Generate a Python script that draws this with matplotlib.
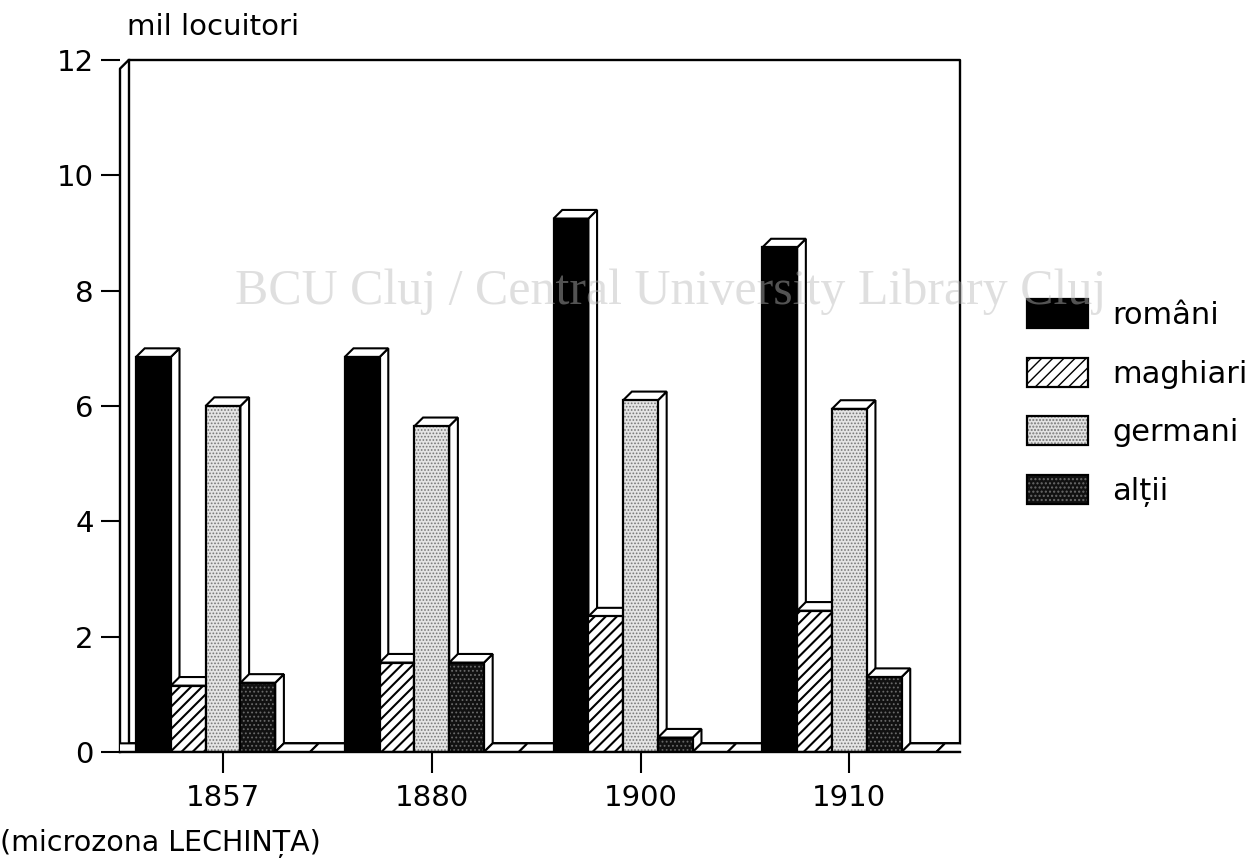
import matplotlib
matplotlib.use("Agg")
import matplotlib.pyplot as plt
from matplotlib.patches import Rectangle, Polygon, Patch

# data (mii locuitori, microzona Lechinta)
years    = ["1857", "1880", "1900", "1910"]
series   = ["români", "maghiari", "germani", "alții"]
romani   = [6.85, 6.85, 9.25, 8.75]
maghiari = [1.15, 1.55, 2.35, 2.45]
germani  = [6.0, 5.65, 6.1, 5.95]
altii    = [1.2, 1.55, 0.25, 1.3]
yticks   = [0, 2, 4, 6, 8, 10, 12]

values = [romani, maghiari, germani, altii]

# face / hatch / hatch colour / hatch width per series
styles = [
    dict(face="#000000", hatch=None,    hc="black",   hw=1.0),
    dict(face="#ffffff", hatch="///",   hc="black",   hw=1.5),
    dict(face="#e4e4e4", hatch=".....", hc="#777777", hw=0.8),
    dict(face="#111111", hatch="....",  hc="#6a6a6a", hw=0.8),
]
empty = dict(face="white", hatch=None, hc="black", hw=1.0)

SLOTS = 6            # 4 series + 2 empty slots per year
DX, DY = 0.25, 0.15  # fake 3d depth (x in slots, y in values)
XMIN, XMAX = -0.46, 23.68

plt.rcParams["font.family"] = ["DejaVu Sans"]

fig = plt.figure(figsize=(12.54, 8.65), dpi=100)
ax = fig.add_axes([120 / 1254, 113 / 865, 840 / 1254, 692 / 865])
ax.set_xlim(XMIN, XMAX)
ax.set_ylim(0, 12)
for s in ax.spines.values():
    s.set_visible(False)

# back wall / floor of the box
lw = 1.7
ax.plot([XMIN, XMIN, XMIN + DX, XMAX, XMAX], [0, 12 - DY, 12, 12, DY],
        color="black", lw=lw, clip_on=False, zorder=1)
ax.plot([XMIN + DX, XMIN + DX], [12, DY], color="black", lw=lw, clip_on=False, zorder=1)
ax.plot([XMIN + DX, XMAX], [DY, DY], color="black", lw=1.3, clip_on=False, zorder=1)


def bar3d(x0, v, st, z):
    # side + top faces (white), then the patterned front face
    side = Polygon([(x0 + 1, 0), (x0 + 1 + DX, DY), (x0 + 1 + DX, v + DY), (x0 + 1, v)],
                   facecolor="white", edgecolor="black", lw=1.5, zorder=z)
    top = Polygon([(x0, v), (x0 + DX, v + DY), (x0 + 1 + DX, v + DY), (x0 + 1, v)],
                  facecolor="white", edgecolor="black", lw=1.5, zorder=z)
    ax.add_patch(side)
    ax.add_patch(top)
    if v > 0:
        with plt.rc_context({"hatch.linewidth": st["hw"]}):
            front = Rectangle((x0, 0), 1, v, facecolor=st["face"], edgecolor=st["hc"],
                              hatch=st["hatch"], lw=0, zorder=z)
        ax.add_patch(front)
        ax.add_patch(Rectangle((x0, 0), 1, v, fill=False, edgecolor="black", lw=1.6, zorder=z))


z = 2
bar3d(-1, 0, empty, z)
for g in range(len(years)):
    for s in range(SLOTS):
        x0 = g * SLOTS + s
        if s < len(series):
            bar3d(x0, values[s][g], styles[s], z)
        else:
            bar3d(x0, 0, empty, z)
        z += 1

ax.plot([XMIN, XMAX], [0, 0], color="black", lw=lw, clip_on=False, zorder=z + 1)

# ticks
ax.set_yticks(yticks)
ax.set_yticklabels([str(t) for t in yticks])
ax.set_xticks([g * SLOTS + 2.5 for g in range(len(years))])
ax.set_xticklabels(years)
ax.tick_params(axis="y", length=14, width=1.5, pad=5, labelsize=21)
ax.tick_params(axis="x", length=15, width=1.5, pad=8, labelsize=21)

fig.text(127 / 1254, 1 - 27 / 865, "mil locuitori", fontsize=21, va="center", ha="left")
fig.text(0 / 1254, 1 - 843 / 865, "(microzona LECHINȚA)", fontsize=20.5, va="center", ha="left")

# legend
handles = []
for st in styles:
    with plt.rc_context({"hatch.linewidth": st["hw"]}):
        fill = Patch(facecolor=st["face"], edgecolor=st["hc"], hatch=st["hatch"], lw=0)
    handles.append((fill, Patch(fill=False, edgecolor="black", lw=1.6)))
fig.legend(handles, series, loc="upper left", bbox_to_anchor=(1027 / 1254, 1 - 299 / 865),
           frameon=False, fontsize=22, handlelength=2.0, handleheight=1.1,
           handletextpad=0.8, labelspacing=0.9, borderaxespad=0, borderpad=0)

# library watermark
fig.text(671 / 1254, 1 - 292 / 865, "BCU Cluj / Central University Library Cluj",
         family="Liberation Serif", fontsize=36, color="#bababa", alpha=0.45,
         ha="center", va="center", zorder=50)

fig.savefig("out.png", dpi=100)
